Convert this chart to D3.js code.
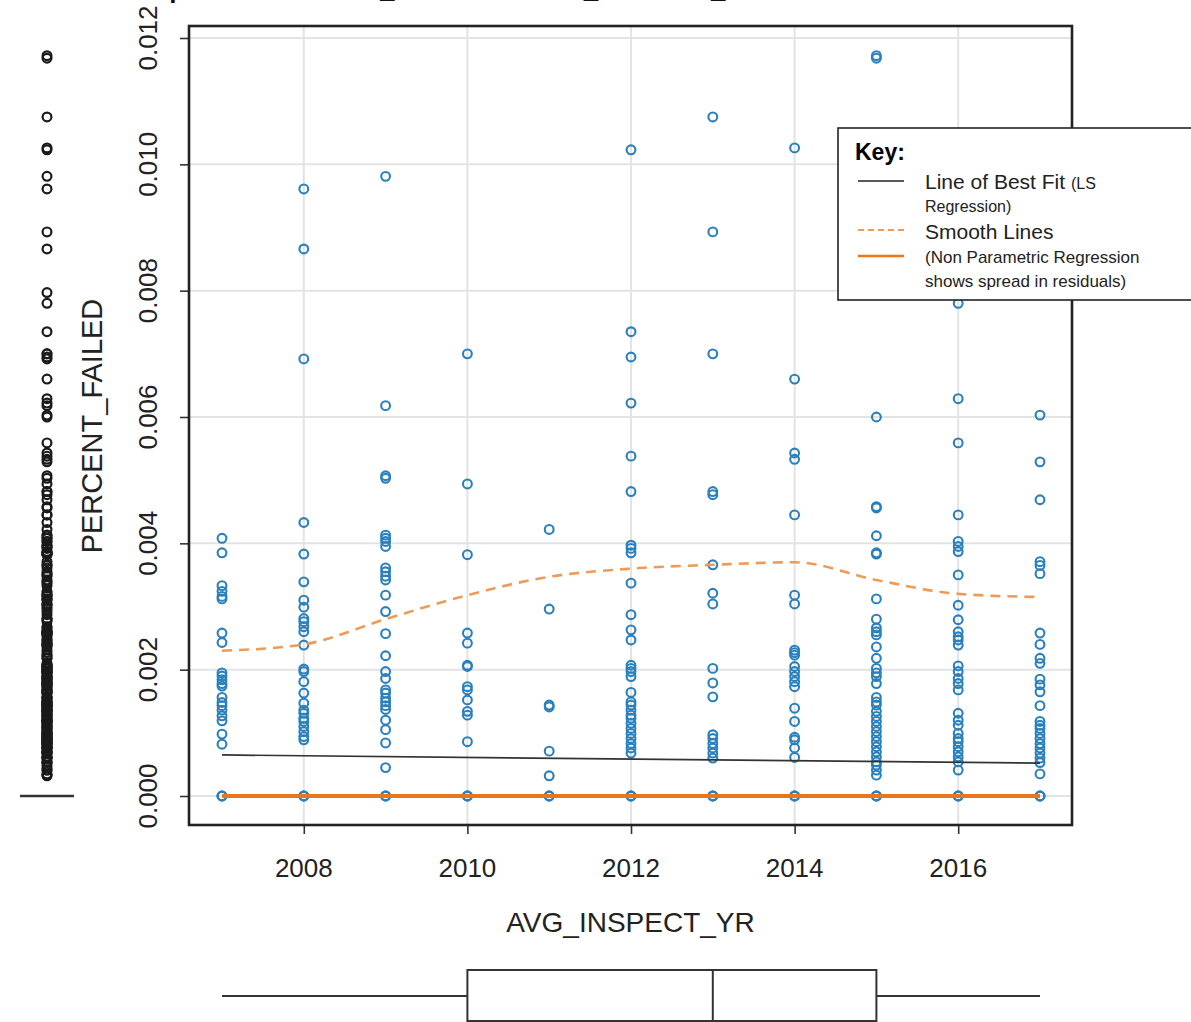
<!DOCTYPE html>
<html>
<head>
<meta charset="utf-8">
<script src="https://cdn.jsdelivr.net/npm/d3@7"></script>
<style>
  html, body { margin: 0; padding: 0; background: #fff; }
  svg { display: block; }
  text { font-family: "Liberation Sans", Arial, sans-serif; }
</style>
</head>
<body>
<svg id="chart" width="1191" height="1022"></svg>
<script>
// Inspection years on the x axis
const years = [2007, 2008, 2009, 2010, 2011, 2012, 2013, 2014, 2015, 2016, 2017];

// PERCENT_FAILED observations for each inspection year (zeros overlap on the axis)
const failed2007 = [0, 0, 0, 0.00408, 0.00385, 0.00333, 0.00324, 0.00316, 0.00312, 0.00258, 0.00243, 0.00195, 0.0019,
  0.00184, 0.00178, 0.00174, 0.00156, 0.00148, 0.00143, 0.00136, 0.00127, 0.00119, 0.00098, 0.00082];
const failed2008 = [0, 0, 0, 0.00961, 0.00866, 0.00692, 0.00433, 0.00383, 0.00339, 0.0031, 0.00299, 0.00281, 0.00276,
  0.00268, 0.0026, 0.00239, 0.00201, 0.00197, 0.00181, 0.00163, 0.00147, 0.00136, 0.00131, 0.00123, 0.00118,
  0.0011, 0.00102, 0.00094, 0.00089];
const failed2009 = [0, 0, 0, 0.00981, 0.00618, 0.00507, 0.00503, 0.00413, 0.00408, 0.00403, 0.00395, 0.00361, 0.00355,
  0.00348, 0.00342, 0.00318, 0.00292, 0.00257, 0.00222, 0.00197, 0.00186, 0.00168, 0.00163, 0.00155, 0.00149,
  0.00143, 0.00137, 0.0012, 0.00105, 0.00084, 0.00045];
const failed2010 = [0, 0, 0, 0.007, 0.00494, 0.00382, 0.00258, 0.00242, 0.00207, 0.00205, 0.00173, 0.00168, 0.00152,
  0.00134, 0.00128, 0.00086];
const failed2011 = [0, 0, 0, 0.00422, 0.00296, 0.00144, 0.00141, 0.00071, 0.00032];
const failed2012 = [0, 0, 0, 0.01023, 0.00735, 0.00695, 0.00622, 0.00538, 0.00482, 0.00397, 0.00392, 0.00385, 0.00337,
  0.00287, 0.00263, 0.00247, 0.00207, 0.00202, 0.00197, 0.00189, 0.00164, 0.00149, 0.00144, 0.00136, 0.00128,
  0.00123, 0.00115, 0.00107, 0.00099, 0.00091, 0.00083, 0.00076, 0.00068];
const failed2013 = [0, 0, 0, 0.01075, 0.00893, 0.007, 0.00482, 0.00477, 0.00366, 0.00321, 0.00304, 0.00202, 0.00179,
  0.00157, 0.00097, 0.00091, 0.00083, 0.00076, 0.00068, 0.0006];
const failed2014 = [0, 0, 0, 0.01026, 0.0066, 0.00543, 0.00533, 0.00445, 0.00318, 0.00304, 0.00231, 0.00227, 0.00223,
  0.00205, 0.00197, 0.00189, 0.00181, 0.00173, 0.00139, 0.00118, 0.00093, 0.00089, 0.00076, 0.00061];
const failed2015 = [0, 0, 0, 0.01172, 0.01168, 0.006, 0.00458, 0.00456, 0.00412, 0.00385, 0.00383, 0.00312, 0.0028,
  0.00266, 0.0026, 0.00255, 0.00236, 0.00218, 0.00202, 0.00195, 0.00189, 0.00178, 0.00156, 0.00149, 0.00144,
  0.00134, 0.00126, 0.00118, 0.0011, 0.00102, 0.00094, 0.00086, 0.00078, 0.0007, 0.00062, 0.00054, 0.00049,
  0.00041, 0.00033];
const failed2016 = [0, 0, 0, 0.0078, 0.00629, 0.00559, 0.00445, 0.00403, 0.00395, 0.00387, 0.0035, 0.00302, 0.00279,
  0.0026, 0.00252, 0.00247, 0.00239, 0.00206, 0.00197, 0.00186, 0.00178, 0.00168, 0.00131, 0.0012, 0.00112,
  0.00099, 0.00091, 0.00086, 0.00078, 0.0007, 0.00062, 0.00054, 0.00041];
const failed2017 = [0, 0, 0, 0.00797, 0.00603, 0.00529, 0.00469, 0.00371, 0.00365, 0.00352, 0.00258, 0.0024, 0.00218,
  0.0021, 0.00185, 0.00176, 0.00165, 0.00143, 0.00118, 0.00112, 0.00107, 0.00099, 0.00091, 0.00083, 0.00076,
  0.00068, 0.0006, 0.00053, 0.00035];

const failedByYear = [failed2007, failed2008, failed2009, failed2010, failed2011, failed2012,
  failed2013, failed2014, failed2015, failed2016, failed2017];

// Least-squares fit, evaluated at the ends of the year range
const lsYears = [2007, 2017];
const lsValues = [0.00065, 0.00052];

// Non-parametric smooth of the conditional mean, and of the conditional median
const smoothValues = [0.0023, 0.0024, 0.0028, 0.00318, 0.00347, 0.0036, 0.00366, 0.0037, 0.00342, 0.0032, 0.00315];
const medianSmooth = [0, 0, 0, 0, 0, 0, 0, 0, 0, 0, 0];

// Marginal boxplot of AVG_INSPECT_YR: min, Q1, median, Q3, max
const yearBox = [2007, 2010, 2013, 2015, 2017];
// Marginal boxplot of PERCENT_FAILED: lower hinge, median, upper hinge (all at zero)
const failedBox = [0, 0, 0];

// Axis ticks
const xTicks = [2008, 2010, 2012, 2014, 2016];
const yTicks = [0, 0.002, 0.004, 0.006, 0.008, 0.010, 0.012];

const svg = d3.select("#chart");
const box = { left: 189, right: 1072, top: 26, bottom: 825 };

const x = d3.scaleLinear().domain([2007, 2017]).range([222, 1040]);
const y = d3.scaleLinear().domain([0, 0.012]).range([796, 38]);

const blue = "#2a80bd";
const orange = "#e8761c";
const orangeLight = "#ef9a55";

// Title (runs off the top edge of the canvas)
svg.append("text")
  .attr("x", 81).attr("y", -2)
  .attr("font-size", 26).attr("font-weight", "bold").attr("fill", "#111")
  .text("Scatterplot of PERCENT_FAILED vs AVG_INSPECT_YR");

// Grid
const grid = svg.append("g").attr("stroke", "#e3e3e3").attr("stroke-width", 2);
grid.selectAll("line.gy").data(yTicks).join("line")
  .attr("x1", box.left).attr("x2", box.right)
  .attr("y1", d => y(d)).attr("y2", d => y(d));
grid.selectAll("line.gx").data(xTicks).join("line")
  .attr("y1", box.top).attr("y2", box.bottom)
  .attr("x1", d => x(d)).attr("x2", d => x(d));

// Axes
const yAxis = svg.append("g")
  .attr("transform", `translate(${box.left},0)`)
  .call(d3.axisLeft(y).tickValues(yTicks).tickSize(9).tickFormat(""));
const xAxis = svg.append("g")
  .attr("transform", `translate(0,${box.bottom})`)
  .call(d3.axisBottom(x).tickValues(xTicks).tickSize(9).tickFormat(""));
[yAxis, xAxis].forEach(a => {
  a.select(".domain").remove();
  a.selectAll(".tick line").attr("stroke", "#333").attr("stroke-width", 1.6);
});

svg.append("g").selectAll("text").data(yTicks).join("text")
  .attr("transform", d => `translate(157,${y(d)}) rotate(-90)`)
  .attr("text-anchor", "middle")
  .attr("font-size", 26).attr("fill", "#222")
  .text(d3.format(".3f"));

svg.append("g").selectAll("text").data(xTicks).join("text")
  .attr("x", d => x(d)).attr("y", 877)
  .attr("text-anchor", "middle")
  .attr("font-size", 26).attr("fill", "#222")
  .text(d => d);

svg.append("text")
  .attr("transform", `translate(102,426) rotate(-90)`)
  .attr("text-anchor", "middle")
  .attr("font-size", 29).attr("fill", "#222")
  .text("PERCENT_FAILED");

svg.append("text")
  .attr("x", (box.left + box.right) / 2).attr("y", 932)
  .attr("text-anchor", "middle")
  .attr("font-size", 28).attr("fill", "#222")
  .text("AVG_INSPECT_YR");

// Scatter points
const points = years.flatMap((yr, i) => failedByYear[i].map(v => ({ year: yr, value: v })));
svg.append("g").selectAll("circle").data(points).join("circle")
  .attr("cx", d => x(d.year)).attr("cy", d => y(d.value)).attr("r", 4.4)
  .attr("fill", "none").attr("stroke", blue).attr("stroke-width", 2.1);

// Fitted lines
const line = d3.line().x(d => x(d[0])).y(d => y(d[1]));
svg.append("path")
  .attr("d", line(lsYears.map((yr, i) => [yr, lsValues[i]])))
  .attr("fill", "none").attr("stroke", "#333").attr("stroke-width", 1.7);

svg.append("path")
  .attr("d", line.curve(d3.curveMonotoneX)(years.map((yr, i) => [yr, smoothValues[i]])))
  .attr("fill", "none").attr("stroke", orangeLight).attr("stroke-width", 2.6)
  .attr("stroke-dasharray", "10,7");

svg.append("path")
  .attr("d", d3.line().x(d => x(d[0])).y(d => y(d[1]))(years.map((yr, i) => [yr, medianSmooth[i]])))
  .attr("fill", "none").attr("stroke", orange).attr("stroke-width", 3.8);

// Plot frame
svg.append("rect")
  .attr("x", box.left).attr("y", box.top)
  .attr("width", box.right - box.left).attr("height", box.bottom - box.top)
  .attr("fill", "none").attr("stroke", "#222").attr("stroke-width", 2.6);

// Marginal boxplot of PERCENT_FAILED (left); non-zero values fall outside the whiskers
const stripX = 47;
svg.append("line")
  .attr("x1", 20).attr("x2", 74)
  .attr("y1", y(failedBox[1])).attr("y2", y(failedBox[1]))
  .attr("stroke", "#333").attr("stroke-width", 2.6);
const outliers = points.filter(d => d.value > failedBox[2]);
svg.append("g").selectAll("circle").data(outliers).join("circle")
  .attr("cx", stripX).attr("cy", d => y(d.value)).attr("r", 4.4)
  .attr("fill", "none").attr("stroke", "#1a1a1a").attr("stroke-width", 2.2);

// Marginal boxplot of AVG_INSPECT_YR (bottom)
const bY = 996, bTop = 970, bBot = 1021;
const bp = svg.append("g").attr("stroke", "#333").attr("stroke-width", 2).attr("fill", "none");
bp.append("line").attr("x1", x(yearBox[0])).attr("x2", x(yearBox[1])).attr("y1", bY).attr("y2", bY);
bp.append("line").attr("x1", x(yearBox[3])).attr("x2", x(yearBox[4])).attr("y1", bY).attr("y2", bY);
bp.append("rect").attr("x", x(yearBox[1])).attr("y", bTop)
  .attr("width", x(yearBox[3]) - x(yearBox[1])).attr("height", bBot - bTop);
bp.append("line").attr("x1", x(yearBox[2])).attr("x2", x(yearBox[2])).attr("y1", bTop).attr("y2", bBot);

// Key
const key = svg.append("g");
key.append("rect").attr("x", 838).attr("y", 128).attr("width", 400).attr("height", 172)
  .attr("fill", "#fff").attr("stroke", "#222").attr("stroke-width", 1.6);
key.append("text").attr("x", 855).attr("y", 160).attr("font-size", 23).attr("font-weight", "bold").text("Key:");
key.append("line").attr("x1", 858).attr("x2", 904).attr("y1", 181).attr("y2", 181)
  .attr("stroke", "#222").attr("stroke-width", 1.4);
key.append("line").attr("x1", 858).attr("x2", 904).attr("y1", 230).attr("y2", 230)
  .attr("stroke", orangeLight).attr("stroke-width", 2).attr("stroke-dasharray", "6,4");
key.append("line").attr("x1", 858).attr("x2", 904).attr("y1", 256).attr("y2", 256)
  .attr("stroke", orange).attr("stroke-width", 2.4);
const t1 = key.append("text").attr("x", 925).attr("y", 189).attr("font-size", 21).attr("fill", "#222");
t1.append("tspan").text("Line of Best Fit ");
t1.append("tspan").attr("font-size", 16).text("(LS");
key.append("text").attr("x", 925).attr("y", 212).attr("font-size", 16).attr("fill", "#222").text("Regression)");
key.append("text").attr("x", 925).attr("y", 239).attr("font-size", 21).attr("fill", "#222").text("Smooth Lines");
key.append("text").attr("x", 925).attr("y", 263).attr("font-size", 17).attr("fill", "#222").text("(Non Parametric Regression");
key.append("text").attr("x", 925).attr("y", 287).attr("font-size", 17).attr("fill", "#222").text("shows spread in residuals)");
</script>
</body>
</html>
